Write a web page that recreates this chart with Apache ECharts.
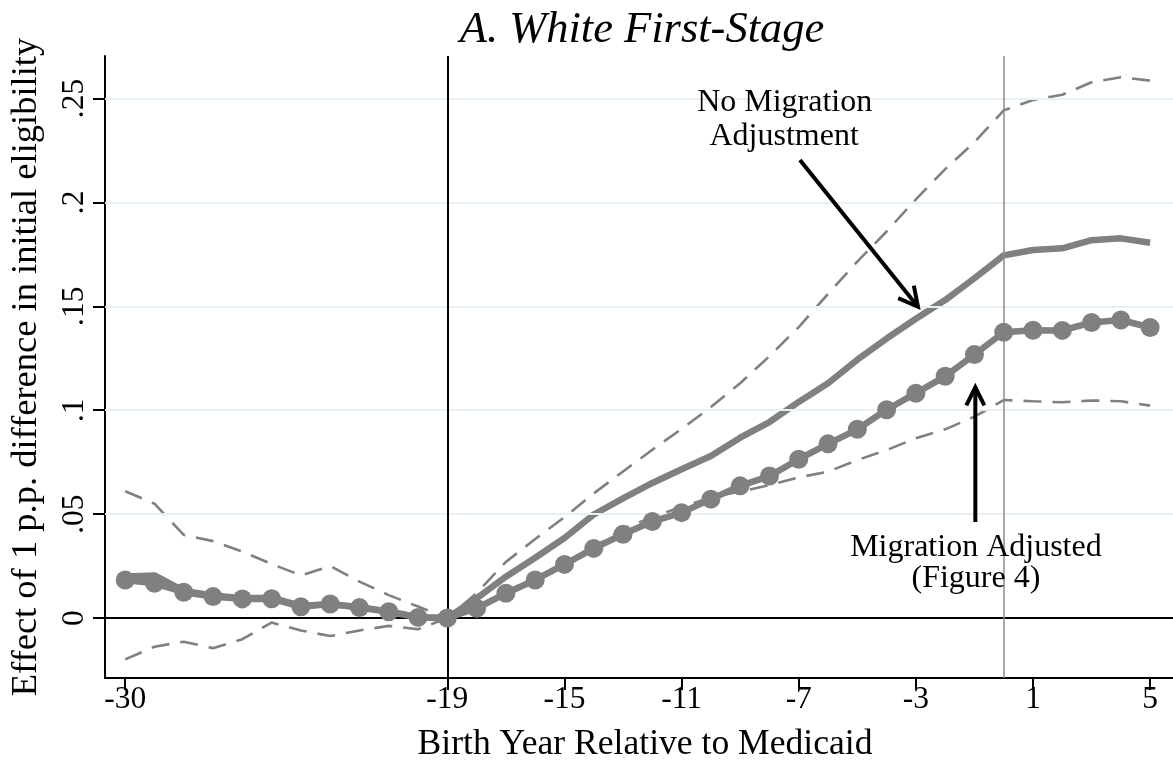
<!DOCTYPE html>
<html>
<head>
<meta charset="utf-8">
<script src="https://cdn.jsdelivr.net/npm/echarts@6/dist/echarts.min.js"></script>
<style>
  html, body { margin: 0; padding: 0; background: #fff; }
  #chart { width: 1173px; height: 772px; }
</style>
</head>
<body>
<div id="chart"></div>
<script>
// Birth year relative to Medicaid introduction
const years = [-30,-29,-28,-27,-26,-25,-24,-23,-22,-21,-20,-19,-18,-17,-16,-15,-14,-13,-12,-11,-10,-9,-8,-7,-6,-5,-4,-3,-2,-1,0,1,2,3,4,5];

// Migration-adjusted first stage (Figure 4)
const adjusted = [0.0183,0.0167,0.0124,0.0103,0.0092,0.0093,0.0054,0.0067,0.0050,0.0030,0.0003,0,
  0.0047,0.0119,0.0183,0.0258,0.0335,0.0403,0.0464,0.0507,0.0572,0.0636,0.0683,0.0764,0.0838,0.0908,
  0.1002,0.1082,0.1163,0.1268,0.1375,0.1385,0.1384,0.1422,0.1434,0.1398];

// First stage without migration adjustment
const noAdjust = [0.0200,0.0205,0.0130,0.0108,0.0095,0.0098,0.0058,0.0068,0.0052,0.0032,0.0004,0,
  0.0095,0.0199,0.0290,0.0385,0.0498,0.0576,0.0650,0.0716,0.0780,0.0868,0.0943,0.1040,0.1130,0.1243,
  0.1345,0.1440,0.1530,0.1635,0.1745,0.1771,0.1779,0.1818,0.1827,0.1806];

// Confidence band around the unadjusted estimates
const upperCI = [0.061,0.055,0.040,0.037,0.032,0.026,0.0205,0.025,0.0175,0.011,0.0055,0,
  0.012,0.027,0.038,0.0485,0.060,0.0705,0.081,0.091,0.1015,0.113,0.126,0.140,0.156,0.1715,
  0.186,0.2015,0.216,0.229,0.2443,0.2493,0.2518,0.2578,0.2602,0.2586];
const lowerCI = [-0.0199,-0.0138,-0.0114,-0.0145,-0.0102,-0.0022,-0.006,-0.0087,-0.006,-0.0038,-0.0054,0,
  0.0055,0.0125,0.019,0.0265,0.034,0.043,0.0485,0.0535,0.058,0.0608,0.064,0.0677,0.0704,0.076,
  0.0808,0.0865,0.0908,0.0969,0.1049,0.1043,0.1038,0.1047,0.1043,0.1022];

// Axis ticks
const xTicks = [-30,-19,-15,-11,-7,-3,1,5];
const yTicks = [0,0.05,0.1,0.15,0.2,0.25];

const SERIF = 'Liberation Serif';
const GRAY = '#808080';

const pairs = arr => years.map((y, i) => [y, arr[i]]);

const chart = echarts.init(document.getElementById('chart'), null, { renderer: 'canvas' });

const option = {
  animation: false,
  backgroundColor: '#fff',
  title: {
    text: 'A. White First-Stage',
    left: 637,
    textAlign: 'center',
    top: 3,
    textStyle: { fontFamily: SERIF, fontStyle: 'italic', fontWeight: 'normal', fontSize: 44.5, color: '#000' }
  },
  grid: { left: 100, right: 0, top: 56, bottom: 94, containLabel: false },
  xAxis: {
    type: 'value',
    min: -30.69,
    max: 5.78,
    name: 'Birth Year Relative to Medicaid',
    nameLocation: 'middle',
    nameGap: 49,
    nameTextStyle: { fontFamily: SERIF, fontSize: 35.6, color: '#000', padding: [0, 0, 0, 12] },
    axisLine: { show: true, onZero: false, lineStyle: { color: '#000', width: 2 } },
    axisTick: { show: true, customValues: xTicks, length: 12, lineStyle: { color: '#000', width: 2 } },
    axisLabel: { customValues: xTicks, margin: 6, fontFamily: SERIF, fontSize: 31.5, color: '#000' },
    splitLine: { show: false }
  },
  yAxis: {
    type: 'value',
    min: -0.02887,
    max: 0.27045,
    name: 'Effect of 1 p.p. difference in initial eligibility',
    nameLocation: 'middle',
    nameGap: 60,
    nameTextStyle: { fontFamily: SERIF, fontSize: 36.5, color: '#000' },
    axisLine: { show: true, onZero: false, lineStyle: { color: '#000', width: 2 } },
    axisTick: { show: true, customValues: yTicks, length: 12, lineStyle: { color: '#000', width: 2 } },
    axisLabel: {
      customValues: yTicks, rotate: 90, margin: 14,
      fontFamily: SERIF, fontSize: 31.5, color: '#000',
      formatter: v => (v === 0 ? '0' : String(v).replace(/^0/, ''))
    },
    splitLine: { show: false }
  },
  series: [
    {
      // reference lines: grid, zero line, cohort cut-offs
      type: 'line', data: [], silent: true, z: 1,
      markLine: {
        silent: true, symbol: 'none', animation: false,
        label: { show: false },
        data: [
          ...yTicks.filter(t => t !== 0).map(t => ({ yAxis: t, lineStyle: { color: '#e7f0f2', width: 2, type: 'solid' } })),
          { yAxis: 0, lineStyle: { color: '#000', width: 2, type: 'solid' } },
          { xAxis: -19, lineStyle: { color: '#000', width: 2, type: 'solid' } },
          { xAxis: 0, lineStyle: { color: '#8c8c8c', width: 1.5, type: 'solid' } }
        ]
      }
    },
    {
      name: 'Upper CI', type: 'line', data: pairs(upperCI), z: 3,
      showSymbol: false, symbol: 'none',
      lineStyle: { color: GRAY, width: 2.6, type: [18, 11] }
    },
    {
      name: 'Lower CI', type: 'line', data: pairs(lowerCI), z: 3,
      showSymbol: false, symbol: 'none',
      lineStyle: { color: GRAY, width: 2.6, type: [18, 11] }
    },
    {
      name: 'No Migration Adjustment', type: 'line', data: pairs(noAdjust), z: 4,
      showSymbol: false, symbol: 'none',
      lineStyle: { color: GRAY, width: 6.5 }
    },
    {
      name: 'Migration Adjusted', type: 'line', data: pairs(adjusted), z: 5,
      symbol: 'circle', symbolSize: 19, showSymbol: true,
      itemStyle: { color: GRAY, borderWidth: 0 },
      lineStyle: { color: GRAY, width: 6.5 }
    }
  ]
};

chart.setOption(option);

// Annotations anchored in data space
const px = (x, y) => chart.convertToPixel({ gridIndex: 0 }, [x, y]);

function arrow(from, to, headLen, headHalf) {
  const a = px(from[0], from[1]);
  const b = px(to[0], to[1]);
  const dx = b[0] - a[0], dy = b[1] - a[1];
  const len = Math.hypot(dx, dy);
  const ux = dx / len, uy = dy / len;
  const nx = -uy, ny = ux;
  const base = [b[0] - ux * headLen, b[1] - uy * headLen];
  const style = { stroke: '#000', lineWidth: 4, fill: null, lineCap: 'butt', lineJoin: 'miter' };
  return [
    { type: 'polyline', z: 100, shape: { points: [a, b] }, style },
    { type: 'polyline', z: 100, shape: { points: [
      [base[0] + nx * headHalf, base[1] + ny * headHalf], b,
      [base[0] - nx * headHalf, base[1] - ny * headHalf]] }, style }
  ];
}

function label(text, x, y) {
  const p = px(x, y);
  return {
    type: 'text', z: 100, x: p[0], y: p[1],
    style: { text, fill: '#000', font: '32px "Liberation Serif"', textAlign: 'center', textVerticalAlign: 'middle' }
  };
}

chart.setOption({
  graphic: [
    label('No Migration', -7.48, 0.2478),
    label('Adjustment', -7.50, 0.2315),
    ...arrow([-6.96, 0.2204], [-2.93, 0.1498], 19, 10),
    label('Migration Adjusted', -0.95, 0.0337),
    label('(Figure 4)', -0.95, 0.0188),
    ...arrow([-0.97, 0.0462], [-0.97, 0.1110], 18, 9)
  ]
});
</script>
</body>
</html>
